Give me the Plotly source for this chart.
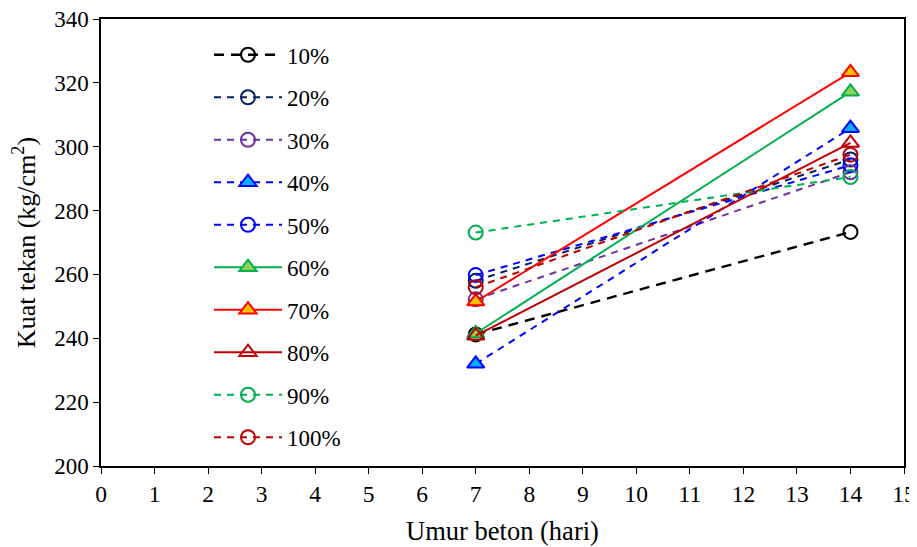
import plotly.graph_objects as go

days = [7, 14]
series_names = ["10%", "20%", "30%", "40%", "50%", "60%", "70%", "80%", "90%", "100%"]
v10 = [241.2, 273.3]
v20 = [258.0, 296.0]
v30 = [252.2, 292.0]
v40 = [232.0, 305.8]
v50 = [259.8, 294.2]
v60 = [241.5, 317.2]
v70 = [251.5, 323.3]
v80 = [240.8, 301.2]
v90 = [273.1, 290.5]
v100 = [256.0, 297.5]
values = [v10, v20, v30, v40, v50, v60, v70, v80, v90, v100]

x_ticks = list(range(0, 16))
y_ticks = list(range(200, 341, 20))

styles = [
    dict(lc="#000000", dash="10px,7px", w=2.4, sym="circle-open", fill="#000000", mc="#000000"),
    dict(lc="#002060", dash="7px,6px", w=2, sym="circle-open", fill="#002060", mc="#002060"),
    dict(lc="#7030A0", dash="7px,6px", w=2, sym="circle-open", fill="#7030A0", mc="#7030A0"),
    dict(lc="#0000FF", dash="7px,6px", w=2, sym="triangle-up", fill="#00B0F0", mc="#0000FF"),
    dict(lc="#0000FF", dash="7px,6px", w=2, sym="circle-open", fill="#0000FF", mc="#0000FF"),
    dict(lc="#00B050", dash="solid", w=2, sym="triangle-up", fill="#92D050", mc="#00B050"),
    dict(lc="#FF0000", dash="solid", w=2, sym="triangle-up", fill="#FFC000", mc="#FF0000"),
    dict(lc="#C00000", dash="solid", w=2, sym="triangle-up-open", fill="#C00000", mc="#C00000"),
    dict(lc="#00B050", dash="7px,6px", w=2, sym="circle-open", fill="#00B050", mc="#00B050"),
    dict(lc="#C00000", dash="7px,6px", w=2, sym="circle-open", fill="#C00000", mc="#C00000"),
]

fig = go.Figure()
for i, (name, vals, st) in enumerate(zip(series_names, values, styles)):
    is_tri = st["sym"].startswith("triangle")
    fig.add_trace(go.Scatter(
        x=days, y=vals, name=name, mode="lines+markers",
        legendgroup=name,
        line=dict(color=st["lc"], width=st["w"], dash=st["dash"]),
        marker=dict(symbol=st["sym"], size=15 if is_tri else 14,
                    color=st["fill"],
                    line=dict(color=st["mc"], width=2)),
    ))

FONT = "Liberation Serif"
# the page body has an 8px margin, so the figure is sized/offset to compensate
W, H = 909, 539
fig.update_layout(
    width=W, height=H,
    margin=dict(l=93, r=13, t=11, b=81),
    paper_bgcolor="white", plot_bgcolor="white",
    font=dict(family=FONT, size=22, color="#000000"),
    showlegend=True,
    legend=dict(x=0.1345, y=0.968, xanchor="left", yanchor="top",
                bgcolor="rgba(0,0,0,0)", font=dict(family=FONT, size=23),
                tracegroupgap=9.6, itemwidth=68, traceorder="grouped"),
    xaxis=dict(range=[0, 15], tickvals=x_ticks, showgrid=False, zeroline=False,
               showline=True, linecolor="black", linewidth=1.5, mirror=True,
               ticks="outside", ticklen=6, tickwidth=1.2, tickcolor="black",
               automargin=False, ticklabeloverflow="allow",
               title=dict(text="Umur beton (hari)", standoff=15,
                          font=dict(family=FONT, size=26.5)),
               tickfont=dict(family=FONT, size=23.5)),
    yaxis=dict(range=[200, 340], tickvals=y_ticks, showgrid=False, zeroline=False,
               showline=True, linecolor="black", linewidth=1.5, mirror=True,
               ticks="outside", ticklen=6, tickwidth=1.2, tickcolor="black",
               automargin=False, ticklabeloverflow="allow",
               title=dict(text="Kuat tekan (kg/cm<sup>2</sup>)", standoff=15,
                          font=dict(family=FONT, size=26)),
               tickfont=dict(family=FONT, size=23)),
)

fig.write_html("out.html")
